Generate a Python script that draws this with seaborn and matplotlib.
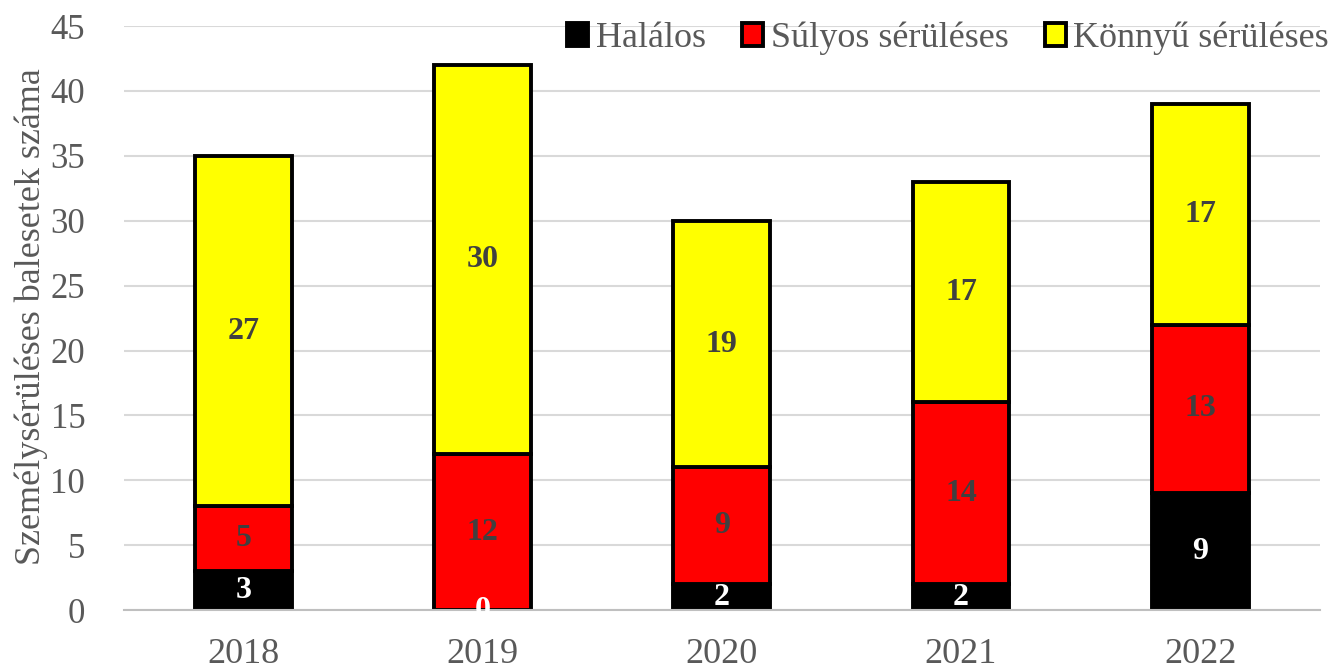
import pandas as pd
import matplotlib.pyplot as plt
import seaborn as sns
import numpy as np

# data
years = ['2018', '2019', '2020', '2021', '2022']
halalos = [3, 0, 2, 2, 9]
sulyos = [5, 12, 9, 14, 13]
konnyu = [27, 30, 19, 17, 17]
series_names = ['Halálos', 'Súlyos sérüléses', 'Könnyű sérüléses']
series_colors = ['#000000', '#FF0000', '#FFFF00']
label_colors = ['white', '#404040', '#404040']

df = pd.DataFrame({'Év': years, series_names[0]: halalos,
                   series_names[1]: sulyos, series_names[2]: konnyu})

sns.set_style("white")
plt.rcParams.update({
    "font.family": ["Liberation Serif", "DejaVu Serif"],
    "font.size": 24,
})

fig = plt.figure(figsize=(13.35, 6.69), dpi=100)
ax = fig.add_axes([0.0929, 0.088, 0.8956, 0.873])

bottom = np.zeros(len(years))
for name, col, lcol in zip(series_names, series_colors, label_colors):
    vals = df[name].to_numpy()
    sns.barplot(data=df, x='Év', y=name, ax=ax, color=col, bottom=bottom,
                width=0.405, edgecolor='black', linewidth=2.8, label=name,
                saturation=1)
    for i, v in enumerate(vals):
        ax.text(i, bottom[i] + v / 2, str(v), ha='center', va='center',
                fontsize=23, fontweight='bold', color=lcol, zorder=5)
    bottom = bottom + vals

ax.set_ylim(0, 45)
ax.set_xlim(-0.5, 4.5)
ax.set_yticks(range(0, 46, 5))
ax.yaxis.grid(True, color='#d9d9d9', lw=1.5)
ax.set_axisbelow(True)
for s in ['top', 'right', 'left']:
    ax.spines[s].set_visible(False)
ax.spines['bottom'].set_color('#bfbfbf')
ax.spines['bottom'].set_linewidth(1.5)
ax.tick_params(axis='y', length=0, labelsize=25, colors='#595959', pad=28)
ax.tick_params(axis='x', length=0, labelsize=26, colors='#595959', pad=20)
ax.set_xlabel('')
ax.set_ylabel('Személysérüléses balesetek száma', color='#595959', fontsize=26)
ax.yaxis.set_label_coords(-0.064, 0.502)

handles, labels = ax.get_legend_handles_labels()
leg = ax.legend(handles, labels, loc='upper right', bbox_to_anchor=(1.026, 1.045),
                ncol=3, frameon=False, fontsize=26, handlelength=0.6, handleheight=0.6,
                handletextpad=0.2, columnspacing=1.0, labelcolor='#595959',
                borderaxespad=0.2)

plt.savefig('out.png', dpi=100)
